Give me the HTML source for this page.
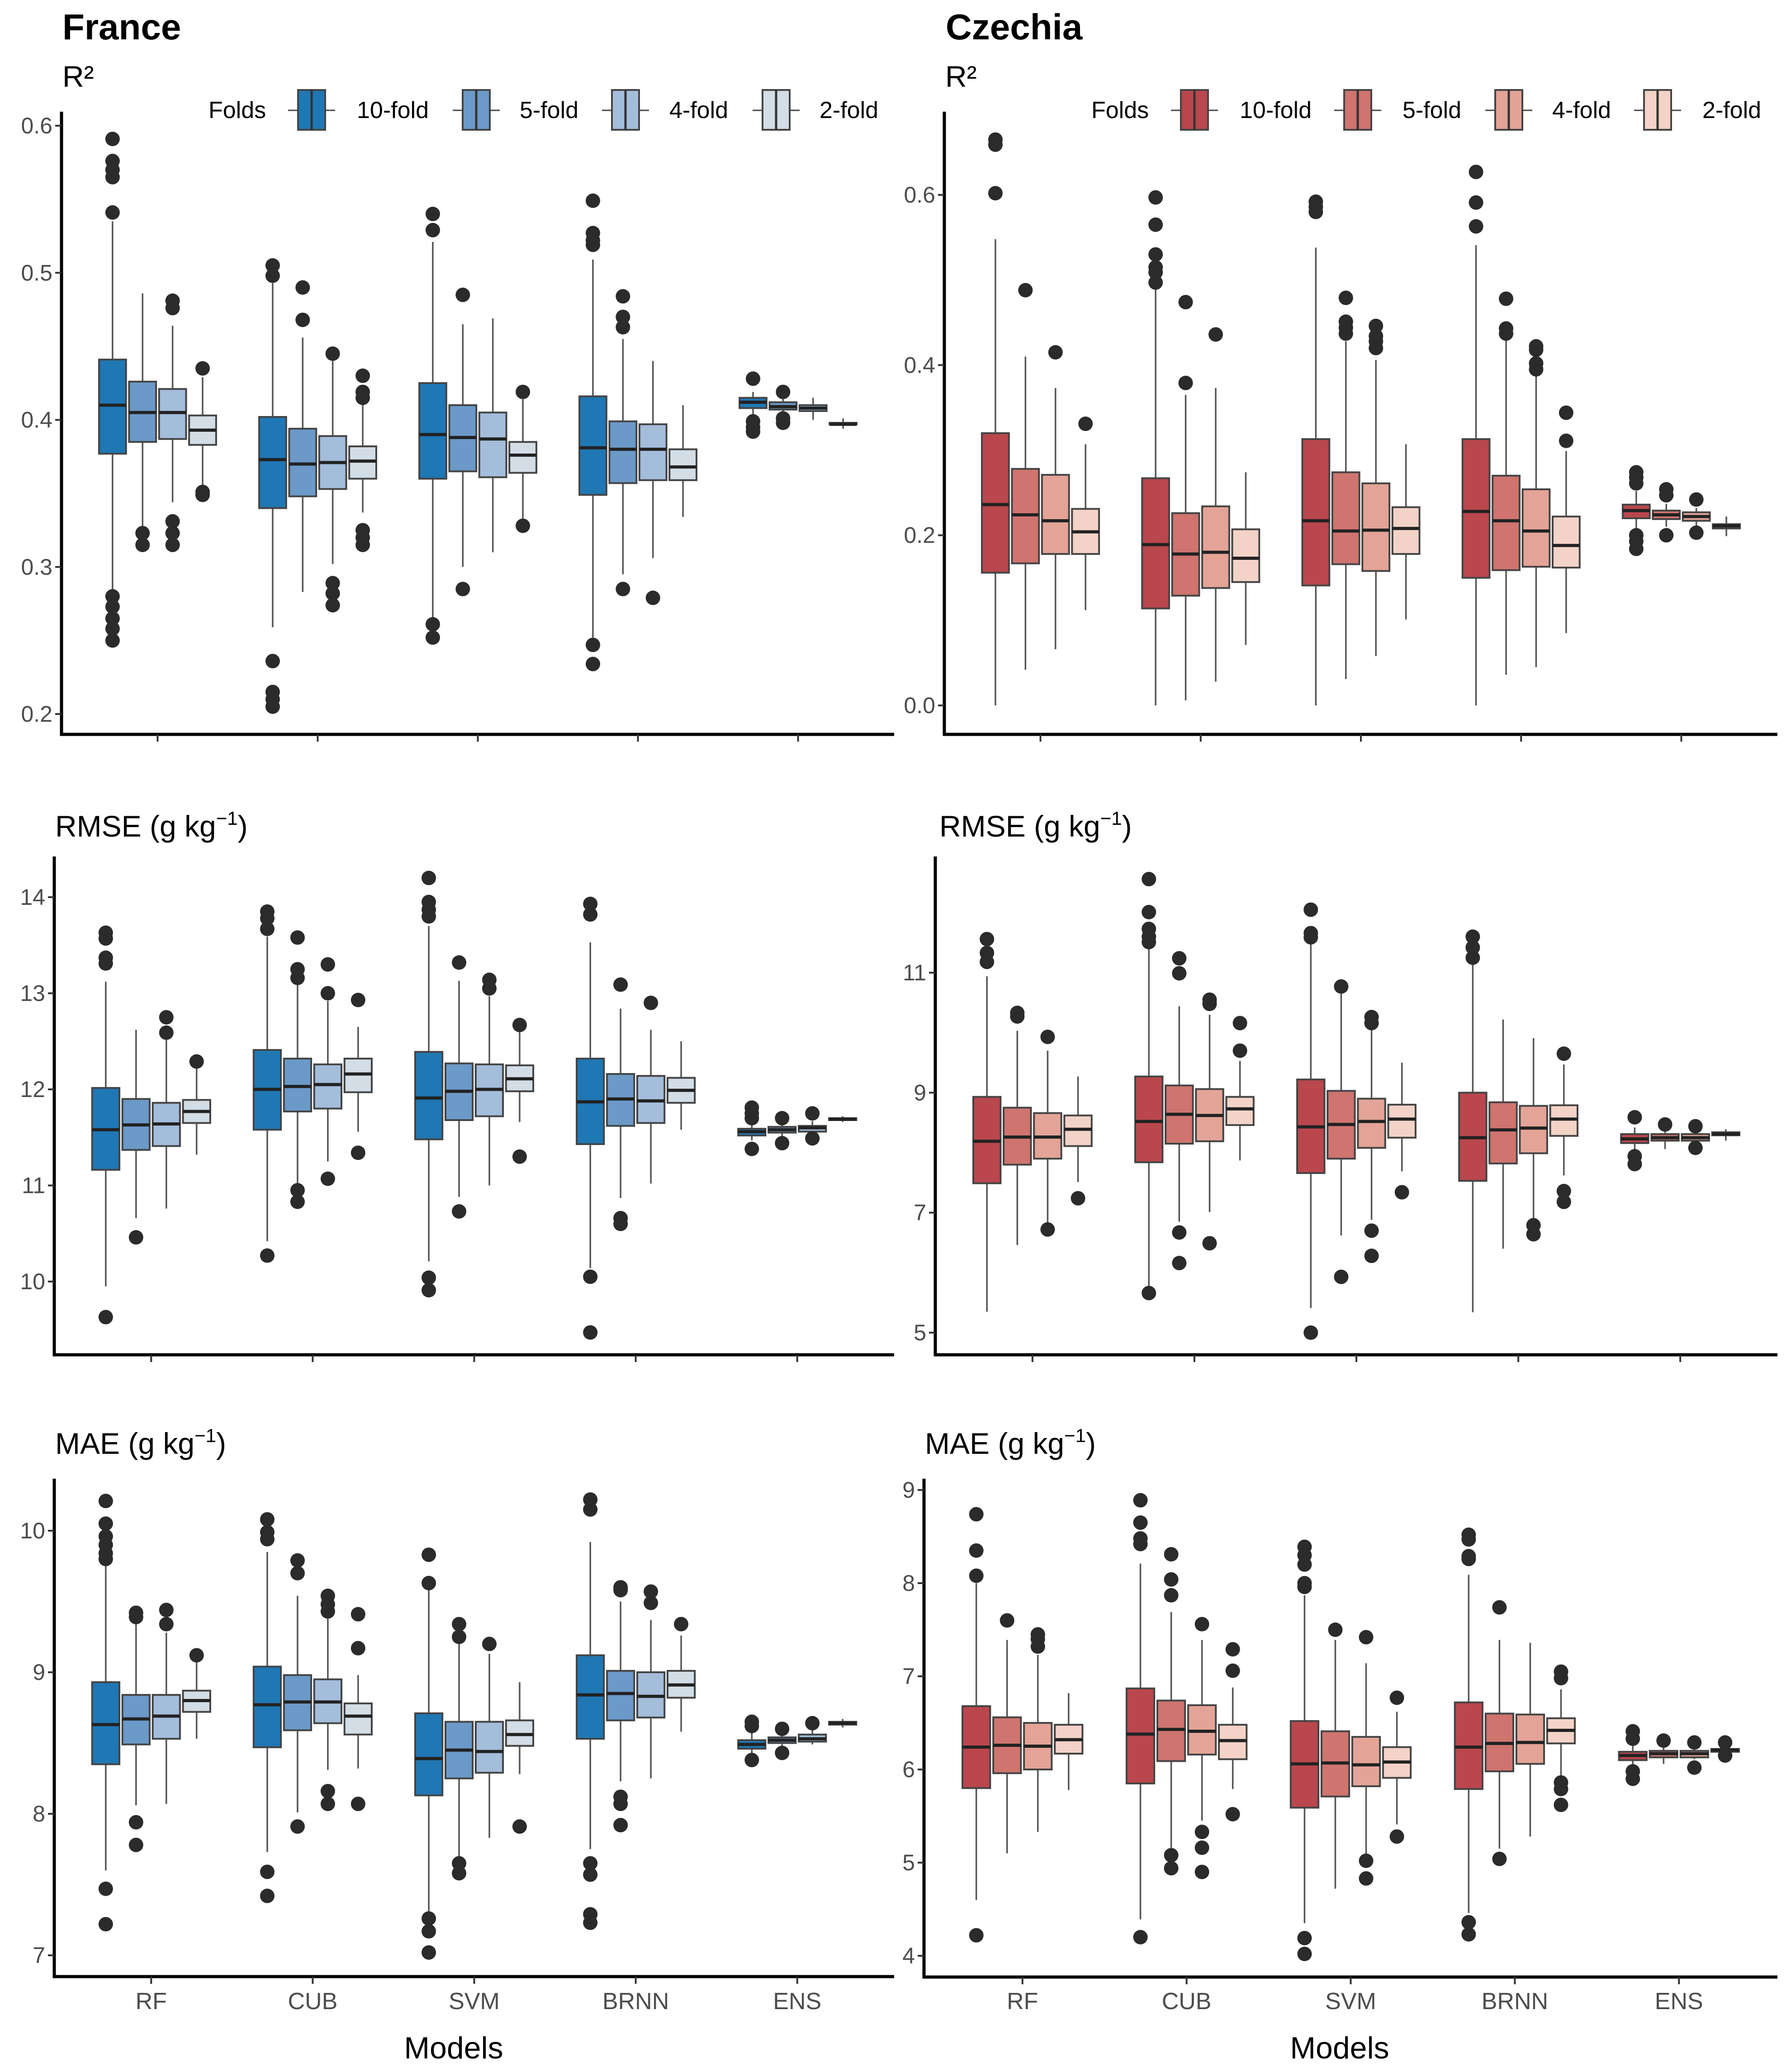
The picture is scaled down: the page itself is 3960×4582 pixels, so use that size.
<!DOCTYPE html>
<html><head><meta charset="utf-8"><style>
html,body{margin:0;padding:0;background:#fff}
svg{display:block}
text{font-family:"Liberation Sans",Arial,sans-serif}
</style></head><body>
<svg id="c" width="3960" height="4582" viewBox="0 0 3960 4582" xmlns="http://www.w3.org/2000/svg">
<rect width="3960" height="4582" fill="#fff"/>
<text x="138" y="87" font-size="80" font-weight="bold" fill="#000">France</text>
<text x="2091" y="87" font-size="80" font-weight="bold" fill="#000">Czechia</text>
<g id="plots"></g>
</svg>
<script>
const models = ["RF","CUB","SVM","BRNN","ENS"];
const folds = ["10-fold","5-fold","4-fold","2-fold"];
const blues = ["#1f77b4","#6b99c8","#a3bddb","#d2dde6"];
const reds = ["#b9474d","#cf746f","#e3a497","#f3d3c7"];
const ticksR2fr = [0.2,0.3,0.4,0.5,0.6];
const ticksR2cz = [0.0,0.2,0.4,0.6];
const ticksRMSEfr = [10,11,12,13,14];
const ticksRMSEcz = [5,7,9,11];
const ticksMAEfr = [7,8,9,10];
const ticksMAEcz = [4,5,6,7,8,9];
// stats: [lowerWhisker, q1, median, q3, upperWhisker], model-major, folds 10,5,4,2
const frR2Stats = [
[0.282,0.377,0.41,0.441,0.535],[0.327,0.385,0.405,0.426,0.486],[0.344,0.387,0.405,0.421,0.464],[0.355,0.383,0.393,0.403,0.429],
[0.259,0.340,0.373,0.402,0.493],[0.283,0.348,0.370,0.394,0.456],[0.302,0.353,0.371,0.389,0.440],[0.337,0.360,0.372,0.382,0.421],
[0.265,0.360,0.390,0.425,0.521],[0.300,0.365,0.388,0.410,0.465],[0.310,0.361,0.387,0.405,0.469],[0.333,0.364,0.376,0.385,0.414],
[0.252,0.349,0.381,0.416,0.509],[0.295,0.357,0.380,0.399,0.455],[0.306,0.359,0.380,0.397,0.440],[0.334,0.359,0.368,0.380,0.410],
[0.402,0.408,0.412,0.415,0.419],[0.403,0.407,0.409,0.412,0.416],[0.400,0.406,0.408,0.410,0.415],[0.394,0.397,0.397,0.398,0.401]];
const frR2Out = [
[0.591,0.576,0.570,0.565,0.541,0.28,0.273,0.265,0.258,0.25],[0.323,0.315],[0.481,0.476,0.331,0.323,0.315],[0.435,0.351,0.349],
[0.505,0.498,0.236,0.215,0.21,0.205],[0.49,0.468],[0.445,0.289,0.282,0.274],[0.43,0.419,0.415,0.325,0.32,0.315],
[0.54,0.529,0.261,0.252],[0.485,0.285],[],[0.419,0.328],
[0.549,0.527,0.522,0.519,0.247,0.234],[0.484,0.47,0.463,0.285],[0.279],[],
[0.428,0.399,0.395,0.392],[0.419,0.401,0.398],[],[]];
const czR2Stats = [
[0,0.156,0.236,0.32,0.548],[0.042,0.167,0.224,0.278,0.41],[0.066,0.178,0.217,0.271,0.373],[0.112,0.178,0.204,0.231,0.307],
[0,0.114,0.189,0.267,0.489],[0.006,0.129,0.178,0.226,0.365],[0.028,0.138,0.18,0.234,0.373],[0.071,0.145,0.173,0.207,0.274],
[0,0.141,0.217,0.313,0.538],[0.031,0.166,0.205,0.274,0.428],[0.058,0.158,0.206,0.261,0.406],[0.101,0.178,0.208,0.233,0.307],
[0,0.15,0.228,0.313,0.541],[0.036,0.159,0.217,0.27,0.431],[0.045,0.163,0.205,0.254,0.399],[0.085,0.162,0.188,0.222,0.299],
[0.206,0.22,0.229,0.236,0.252],[0.21,0.219,0.224,0.229,0.237],[0.21,0.217,0.222,0.227,0.232],[0.199,0.208,0.211,0.213,0.222]];
const czR2Out = [
[0.665,0.659,0.602],[0.488],[0.415],[0.331],
[0.597,0.565,0.53,0.515,0.509,0.497],[0.474,0.379],[0.436],[],
[0.592,0.586,0.58],[0.479,0.451,0.444,0.437],[0.446,0.434,0.428,0.42],[],
[0.627,0.591,0.563],[0.478,0.443,0.437],[0.422,0.418,0.402,0.395],[0.344,0.311],
[0.274,0.268,0.261,0.2,0.193,0.184],[0.254,0.247,0.2],[0.242,0.203],[]];
const frRMSEStats = [
[9.95,11.163,11.58,12.015,13.12],[10.66,11.37,11.63,11.9,12.62],[10.76,11.41,11.64,11.86,12.54],[11.32,11.65,11.77,11.89,12.22],
[10.42,11.58,12.0,12.41,13.59],[11.0,11.77,12.03,12.32,13.1],[11.25,11.8,12.05,12.26,12.92],[11.56,11.97,12.16,12.32,12.65],
[10.21,11.48,11.91,12.39,13.7],[10.88,11.68,11.98,12.27,13.13],[11.0,11.72,12.0,12.26,12.97],[11.66,11.98,12.11,12.25,12.6],
[10.14,11.43,11.87,12.32,13.53],[10.87,11.62,11.9,12.16,12.84],[11.02,11.65,11.88,12.14,12.62],[11.58,11.86,11.99,12.12,12.5],
[11.47,11.52,11.56,11.59,11.66],[11.49,11.55,11.58,11.61,11.64],[11.53,11.56,11.6,11.62,11.67],[11.66,11.68,11.69,11.7,11.72]];
const frRMSEOut = [
[13.63,13.57,13.37,13.31,9.63],[10.46],[12.75,12.59],[12.29],
[13.85,13.78,13.67,10.27],[13.58,13.25,13.16,10.95,10.83],[13.3,13.0,11.07],[12.93,11.34],
[14.2,13.95,13.87,13.8,10.04,9.91],[13.32,10.73],[13.14,13.05],[12.67,11.3],
[13.93,13.82,10.05,9.47],[13.09,10.66,10.6],[12.9],[],
[11.81,11.75,11.7,11.38],[11.7,11.44],[11.75,11.49],[]];
const czRMSEStats = [
[5.35,7.49,8.19,8.93,10.94],[6.46,7.8,8.26,8.75,10.03],[6.79,7.9,8.26,8.66,9.7],[7.51,8.11,8.39,8.62,9.27],
[5.74,7.84,8.52,9.27,11.48],[6.85,8.15,8.64,9.12,10.44],[7.01,8.19,8.62,9.06,10.3],[7.87,8.46,8.73,8.93,9.53],
[5.41,7.66,8.43,9.22,11.57],[6.62,7.9,8.47,9.03,10.7],[6.88,8.08,8.52,8.9,10.05],[7.69,8.25,8.56,8.8,9.5],
[5.34,7.53,8.25,9.0,11.21],[6.4,7.82,8.38,8.84,10.22],[6.88,7.99,8.41,8.78,9.91],[7.62,8.28,8.56,8.79,9.47],
[7.99,8.16,8.23,8.31,8.42],[8.06,8.2,8.25,8.31,8.42],[8.13,8.2,8.25,8.31,8.37],[8.2,8.29,8.31,8.34,8.39]];
const czRMSEOut = [
[11.56,11.33,11.18],[10.33,10.27],[9.93,6.72],[7.24],
[12.56,12.01,11.73,11.6,11.51,5.66],[11.24,10.99,6.67,6.16],[10.55,10.48,6.49],[10.16,9.7],
[12.05,11.66,11.59,5.0],[10.77,5.93],[10.26,10.16,6.7,6.28],[7.34],
[11.6,11.42,11.25],[],[6.79,6.64],[9.65,7.36,7.18],
[8.59,7.94,7.81],[8.47],[8.44,8.08],[]];
const frMAEStats = [
[7.6,8.35,8.63,8.93,9.79],[8.06,8.49,8.67,8.84,9.36],[8.07,8.53,8.69,8.84,9.28],[8.53,8.72,8.8,8.87,9.08],
[7.73,8.47,8.77,9.04,9.85],[8.01,8.59,8.79,8.98,9.54],[8.31,8.64,8.79,8.95,9.4],[8.32,8.56,8.69,8.78,8.98],
[7.29,8.13,8.39,8.71,9.58],[7.69,8.25,8.45,8.65,9.21],[7.83,8.29,8.44,8.65,9.13],[8.28,8.48,8.56,8.66,8.93],
[7.75,8.53,8.84,9.12,9.92],[8.23,8.66,8.85,9.01,9.5],[8.25,8.68,8.83,9.0,9.37],[8.58,8.82,8.91,9.01,9.26],
[8.42,8.46,8.49,8.52,8.57],[8.47,8.5,8.52,8.54,8.58],[8.49,8.51,8.53,8.56,8.6],[8.61,8.63,8.64,8.65,8.67]];
const frMAEOut = [
[10.21,10.05,9.96,9.9,9.84,9.8,7.47,7.22],[9.42,9.39,7.94,7.78],[9.44,9.34],[9.12],
[10.08,9.99,9.94,7.59,7.42],[9.79,9.7,7.91],[9.54,9.48,9.43,8.16,8.07],[9.41,9.17,8.07],
[9.83,9.63,7.26,7.17,7.02],[9.34,9.25,7.65,7.58],[9.2],[7.91],
[10.22,10.15,7.65,7.57,7.29,7.23],[9.6,9.58,8.12,8.07,7.92],[9.57,9.49],[9.34],
[8.65,8.62,8.38],[8.6,8.43],[8.64],[]];
const czMAEStats = [
[4.6,5.8,6.24,6.68,8.0],[5.1,5.96,6.26,6.56,7.39],[5.33,6.0,6.25,6.5,7.23],[5.78,6.17,6.32,6.48,6.82],
[4.39,5.85,6.38,6.87,8.21],[5.16,6.09,6.43,6.74,7.69],[5.45,6.16,6.41,6.69,7.39],[5.79,6.11,6.31,6.48,6.88],
[4.35,5.59,6.06,6.52,7.87],[4.72,5.71,6.07,6.41,7.39],[5.08,5.82,6.05,6.35,7.14],[5.41,5.91,6.08,6.24,6.62],
[4.46,5.79,6.24,6.72,8.09],[5.15,5.98,6.28,6.6,7.39],[5.28,6.06,6.29,6.59,7.36],[5.92,6.28,6.42,6.55,6.86],
[6.02,6.1,6.15,6.19,6.28],[6.06,6.13,6.17,6.2,6.26],[6.11,6.13,6.17,6.2,6.24],[6.16,6.19,6.21,6.22,6.25]];
const czMAEOut = [
[8.74,8.35,8.08,4.22],[7.6],[7.45,7.4,7.32],[],
[8.89,8.65,8.48,8.42,4.2],[8.31,8.04,7.87,5.08,4.94],[7.56,5.33,5.16,4.9],[7.29,7.06,5.52],
[8.39,8.3,8.2,8.0,7.96,4.19,4.02],[7.5],[7.42,5.02,4.83],[6.77,5.28],
[8.52,8.47,8.29,8.26,4.36,4.23],[7.74,5.04],[],[7.05,6.98,5.86,5.79,5.62],
[6.41,6.33,5.98,5.9],[6.31],[6.29,6.02],[6.29,6.15]];

const NS = "http://www.w3.org/2000/svg";
const root = document.getElementById("plots");
function mk(tag, attrs, parent){const e=document.createElementNS(NS,tag);for(const k in attrs)e.setAttribute(k,attrs[k]);(parent||root).appendChild(e);return e;}

function panel(p){
  const g = mk("g",{});
  
  
  const yScale = v => p.ya + (v - p.va) * (p.yb - p.ya) / (p.vb - p.va);
  const step = (p.x1 - p.x0) / 5.2;
  const cx = i => p.x0 + step * (0.6 + i);
  const slot = step * 0.75 / 4, bw = slot * 0.9;
  const t = mk("text",{x:p.tx,y:p.ty,"font-size":66,fill:"#000"},g);
  t.textContent = p.title;
  
  
  if(p.sup){const s=mk("tspan",{"font-size":42,dy:-26},t);s.textContent="−1";const s2=mk("tspan",{dy:26},t);s2.textContent=")";}
  p.stats.forEach((s, k) => {
    const m = Math.floor(k/4), f = k%4;
    const x = cx(m) + (f - 1.5) * slot;
    const bg = mk("g",{},g);
    
    
    mk("line",{x1:x,x2:x,y1:yScale(s[4]),y2:yScale(s[3]),stroke:"#555","stroke-width":3.5},bg);
    mk("line",{x1:x,x2:x,y1:yScale(s[1]),y2:yScale(s[0]),stroke:"#555","stroke-width":3.5},bg);
    const top = yScale(s[3]), bot = yScale(s[1]);
    mk("rect",{x:x-bw/2,y:top,width:bw,height:Math.max(bot-top,2),fill:p.colors[f],stroke:"#444","stroke-width":4},bg);
    mk("line",{x1:x-bw/2,x2:x+bw/2,y1:yScale(s[2]),y2:yScale(s[2]),stroke:"#222","stroke-width":7},bg);
    (p.out[k]||[]).forEach(v => {
      const c = mk("circle",{cx:x,cy:yScale(v),r:16,fill:"#2b2b2b"},bg);
      
      
    });
  });
  const ax = mk("line",{x1:p.x0,x2:p.x0,y1:p.top,y2:p.bottom+3,stroke:"#000","stroke-width":7},g);
  
  
  const xa = mk("line",{x1:p.x0-3,x2:p.x1,y1:p.bottom,y2:p.bottom,stroke:"#000","stroke-width":7},g);
  
  
  p.ticks.forEach(v => {
    const y = yScale(v);
    mk("line",{x1:p.x0-14,x2:p.x0,y1:y,y2:y,stroke:"#333","stroke-width":4},g);
    const tl = mk("text",{x:p.x0-20,y:y+17,"font-size":50,fill:"#4d4d4d","text-anchor":"end"},g);
    tl.textContent = p.fmt ? v.toFixed(1) : String(v);
    
    
  });
  models.forEach((m, i) => {
    mk("line",{x1:cx(i),x2:cx(i),y1:p.bottom,y2:p.bottom+16,stroke:"#333","stroke-width":4},g);
    if(p.labels){
      const ml = mk("text",{x:cx(i),y:4443,"font-size":52,fill:"#4d4d4d","text-anchor":"middle"},g);
      ml.textContent = m;
      
      
    }
  });
  if(p.labels){
    const xt = mk("text",{x:p.mx,y:4552,"font-size":68,fill:"#000","text-anchor":"middle"},g);
    xt.textContent = "Models";
    
    
  }
}

function legend(folX, keyX, txtX, colors, name){
  const g = mk("g",{});
  
  
  const ft = mk("text",{x:folX,y:261,"font-size":52,fill:"#000"},g);
  ft.textContent = "Folds";
  folds.forEach((f, i) => {
    const e = mk("g",{},g);
    
    
    const x = keyX[i], w = 60;
    mk("line",{x1:x-22,x2:x+w+22,y1:244,y2:244,stroke:"#444","stroke-width":3},e);
    mk("rect",{x:x,y:199,width:w,height:88,fill:colors[i],stroke:"#444","stroke-width":4},e);
    mk("line",{x1:x+w/2,x2:x+w/2,y1:199,y2:287,stroke:"#333","stroke-width":5},e);
    const tx = mk("text",{x:txtX[i],y:261,"font-size":52,fill:"#000"},e);
    tx.textContent = f;
  });
}

panel({name:"france-r2-panel",x0:136,x1:1977,top:247,bottom:1624,ya:278,va:0.6,yb:1579,vb:0.2,ticks:ticksR2fr,fmt:true,stats:frR2Stats,out:frR2Out,colors:blues,title:"R²",tx:138,ty:192});
panel({name:"czechia-r2-panel",x0:2088,x1:3930,top:247,bottom:1624,ya:431,va:0.6,yb:1560,vb:0.0,ticks:ticksR2cz,fmt:true,stats:czR2Stats,out:czR2Out,colors:reds,title:"R²",tx:2090,ty:192});
panel({name:"france-rmse-panel",x0:120,x1:1977,top:1894,bottom:2996,ya:1984,va:14,yb:2834,vb:10,ticks:ticksRMSEfr,stats:frRMSEStats,out:frRMSEOut,colors:blues,title:"RMSE (g kg",sup:true,tx:122,ty:1850});
panel({name:"czechia-rmse-panel",x0:2068,x1:3930,top:1894,bottom:2996,ya:2151,va:11,yb:2947,vb:5,ticks:ticksRMSEcz,stats:czRMSEStats,out:czRMSEOut,colors:reds,title:"RMSE (g kg",sup:true,tx:2077,ty:1850});
panel({name:"france-mae-panel",x0:120,x1:1977,top:3270,bottom:4371,ya:3385,va:10,yb:4324,vb:7,ticks:ticksMAEfr,stats:frMAEStats,out:frMAEOut,colors:blues,title:"MAE (g kg",sup:true,tx:122,ty:3215,labels:true,mx:1003});
panel({name:"czechia-mae-panel",x0:2043,x1:3930,top:3270,bottom:4372,ya:3295,va:9,yb:4325,vb:4,ticks:ticksMAEcz,stats:czMAEStats,out:czMAEOut,colors:reds,title:"MAE (g kg",sup:true,tx:2045,ty:3215,labels:true,mx:2962});
legend(461,[659,1023,1353,1686],[789,1149,1480,1812],blues,"france-legend");
legend(2413,[2611,2972,3306,3635],[2741,3101,3432,3764],reds,"czechia-legend");
</script>
</body></html>
